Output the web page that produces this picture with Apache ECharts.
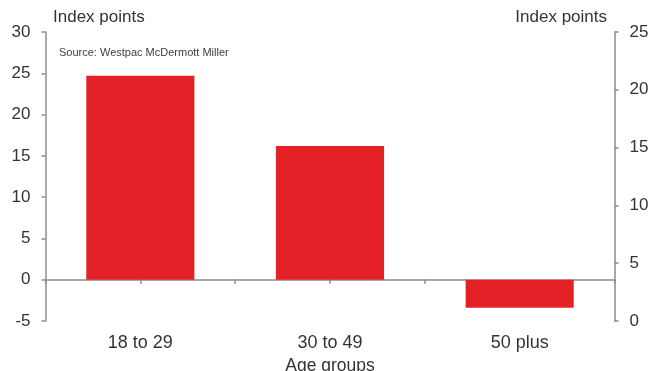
<!DOCTYPE html>
<html>
<head>
<meta charset="utf-8">
<script src="https://cdn.jsdelivr.net/npm/echarts@6/dist/echarts.min.js"></script>
<style>
  html, body { margin: 0; padding: 0; background: #fff; }
  #chart { width: 652px; height: 371px; }
</style>
</head>
<body>
<div id="chart"></div>
<script>
// Consumer confidence by age group (index points)
const categories = ['18 to 29', '30 to 49', '50 plus'];
const values = [24.7, 16.2, -3.4];
const leftTicks = { min: -5, max: 30, interval: 5 };
const rightTicks = { min: 0, max: 25, interval: 5 };

// Half-width slots so the zero baseline carries ticks at both the
// category centres and the category boundaries.
const halfSlots = categories.flatMap(c => [c + ' (left)', c + ' (right)']);

const FONT = '"Liberation Sans", Arial, sans-serif';
const TEXT = '#333333';
const LINE = '#8c8c8c';

const chart = echarts.init(document.getElementById('chart'), null, { renderer: 'canvas' });

chart.setOption({
  animation: false,
  backgroundColor: '#ffffff',
  grid: { left: 45.5, right: 37.5, top: 32, bottom: 50, containLabel: false, outerBoundsMode: 'none' },
  xAxis: [
    {
      // category axis for the bars, labels along the bottom edge
      type: 'category', data: categories, position: 'bottom',
      axisLine: { show: false, onZero: false }, axisTick: { show: false },
      axisLabel: { show: true, color: TEXT, fontFamily: FONT, fontSize: 18, margin: 13 },
      name: 'Age groups', nameLocation: 'middle', nameGap: 32.5,
      nameTextStyle: { color: TEXT, fontFamily: FONT, fontSize: 17.5 },
      splitLine: { show: false }
    },
    {
      // zero baseline with ticks every half category
      type: 'category', data: halfSlots, position: 'bottom',
      axisLine: { show: true, onZero: true, onZeroAxisIndex: 0, lineStyle: { color: LINE, width: 1.5 } },
      axisTick: { show: true, interval: 0, length: 4, lineStyle: { color: LINE, width: 1.5 } },
      axisLabel: { show: false }, splitLine: { show: false }
    }
  ],
  yAxis: [
    {
      type: 'value', position: 'left',
      min: leftTicks.min, max: leftTicks.max, interval: leftTicks.interval,
      axisLine: { show: true, onZero: false, lineStyle: { color: LINE, width: 1.5 } },
      axisTick: { show: true, length: 4, lineStyle: { color: LINE, width: 1.5 } },
      axisLabel: { color: TEXT, fontFamily: FONT, fontSize: 17, margin: 15 },
      splitLine: { show: false }
    },
    {
      type: 'value', position: 'right',
      min: rightTicks.min, max: rightTicks.max, interval: rightTicks.interval,
      axisLine: { show: true, onZero: false, lineStyle: { color: LINE, width: 1.5 } },
      axisTick: { show: true, length: 4, lineStyle: { color: LINE, width: 1.5 } },
      axisLabel: { color: TEXT, fontFamily: FONT, fontSize: 17, margin: 15 },
      splitLine: { show: false }
    }
  ],
  graphic: [
    { type: 'text', left: 53, top: 9,
      style: { text: 'Index points', fill: TEXT, font: '17px ' + FONT } },
    { type: 'text', right: 45, top: 9,
      style: { text: 'Index points', fill: TEXT, font: '17px ' + FONT } },
    { type: 'text', left: 59, top: 47,
      style: { text: 'Source: Westpac McDermott Miller', fill: '#404040', font: '11px ' + FONT } }
  ],
  series: [
    {
      type: 'bar', xAxisIndex: 0, yAxisIndex: 0,
      data: values, barWidth: '57%',
      itemStyle: { color: '#e42126' }
    }
  ]
});
</script>
</body>
</html>
